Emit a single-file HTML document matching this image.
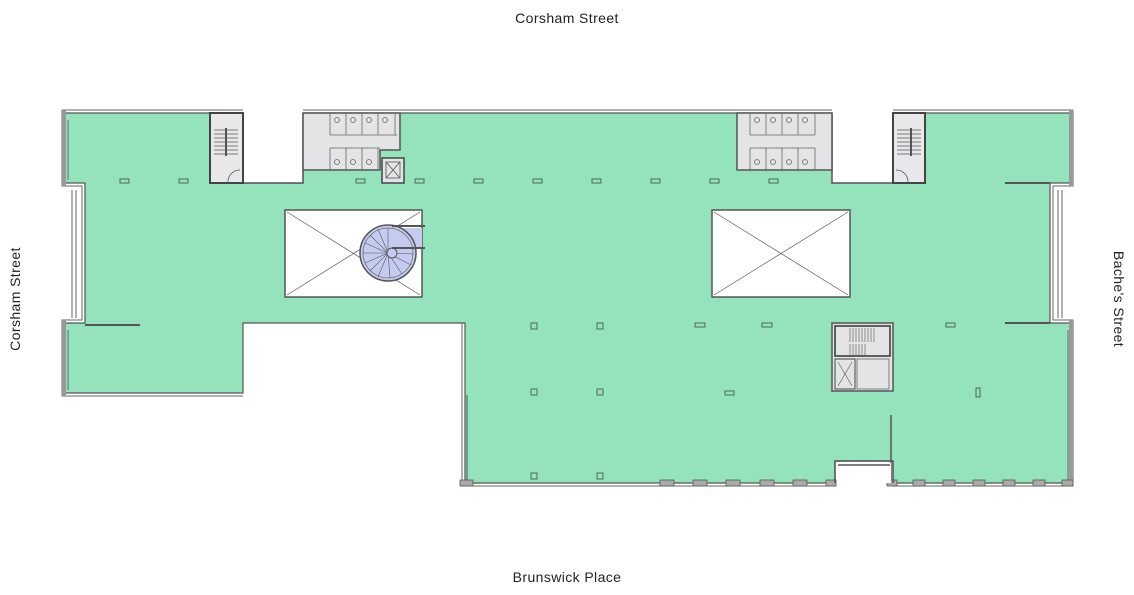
<!DOCTYPE html>
<html><head><meta charset="utf-8"><style>
html,body{margin:0;padding:0;background:#fff;}
svg{display:block;}
text{font-family:"Liberation Sans",sans-serif;font-size:14px;fill:#222;letter-spacing:0.4px;}
</style></head><body>
<svg width="1134" height="595" viewBox="0 0 1134 595" xmlns="http://www.w3.org/2000/svg">
<text x="567" y="23" text-anchor="middle">Corsham Street</text>
<text x="567" y="582" text-anchor="middle">Brunswick Place</text>
<text transform="translate(20,299) rotate(-90)" text-anchor="middle">Corsham Street</text>
<text transform="translate(1114,299) rotate(90)" text-anchor="middle">Bache's Street</text>

<!-- green floor -->
<path d="M65,113 H210 V183 H303 V113 H1070 V183 H1050 V323 H1070 V483 H893 V461 H835 V483 H465 V323 H243 V393 H65 V323 H85 V183 H65 Z" fill="#95e3bd" stroke="#555" stroke-width="1.2"/>
<!-- white notches at top -->
<rect x="243" y="110" width="60" height="73" fill="#fff"/>
<rect x="832" y="110" width="61" height="73" fill="#fff"/>
<path d="M243,113 V183 H303 V113 M832,113 V183 H893 V113" fill="none" stroke="#555" stroke-width="1.5"/>
<!-- outer wall double lines -->
<g fill="none" stroke="#666" stroke-width="1">
<path d="M62,110 H243 M303,110 H832 M893,110 H1073"/>
<path d="M62,110 V186 H82 V320 H62 V396 H243"/>
<path d="M1073,110 V186 H1053 V320 H1073 V486 H893 M835,486 H462 V323"/>
<path d="M72,190 V318 M76,190 V318"/>
<path d="M1058,190 V318 M1062,190 V318"/>
<path d="M1068,330 V480"/>
<path d="M68,120 V180 M68,330 V390"/>
</g>
<rect x="62" y="110" width="4" height="76" fill="#999"/>
<rect x="62" y="320" width="4" height="76" fill="#999"/>
<rect x="1069" y="110" width="4" height="76" fill="#999"/>
<rect x="1069" y="320" width="4" height="166" fill="#999"/>
<line x1="85" y1="325" x2="140" y2="325" stroke="#555" stroke-width="2"/>
<line x1="1005" y1="183" x2="1050" y2="183" stroke="#555" stroke-width="2"/>
<line x1="1005" y1="323" x2="1050" y2="323" stroke="#555" stroke-width="2"/>
<line x1="891" y1="415" x2="891" y2="483" stroke="#555" stroke-width="1.5"/>
<line x1="467" y1="395" x2="467" y2="480" stroke="#555" stroke-width="1"/>

<!-- stairs top -->
<g stroke="#444" fill="#e8e8ea">
<rect x="210" y="113" width="33" height="70" stroke-width="2"/>
<rect x="893" y="113" width="32" height="70" stroke-width="2"/>
</g>
<g stroke="#555" stroke-width="0.8">
<path d="M214,130 H238 M214,134 H238 M214,138 H238 M214,142 H238 M214,146 H238 M214,150 H238 M214,154 H238"/>
<path d="M897,130 H921 M897,134 H921 M897,138 H921 M897,142 H921 M897,146 H921 M897,150 H921 M897,154 H921"/>
<line x1="226" y1="128" x2="226" y2="156" stroke-width="2"/>
<line x1="911" y1="128" x2="911" y2="156" stroke-width="2"/>
<path d="M228,183 A12,12 0 0 1 240,170" fill="none"/>
<path d="M908,183 A12,12 0 0 0 896,170" fill="none"/>
</g>

<!-- toilets -->
<g stroke="#555" stroke-width="1" fill="#e4e4e6">
<path d="M303,113 H400 V150 H380 V170 H303 Z" stroke-width="1.5"/>
<path d="M737,113 H832 V170 H737 Z" stroke-width="1.5"/>
</g>
<g stroke="#666" stroke-width="0.8" fill="none">
<path d="M330,114 V135 M346,114 V135 M362,114 V135 M378,114 V135 M395,114 V135 M330,135 H397"/>
<path d="M330,148 V170 M346,148 V170 M362,148 V170 M378,148 V170 M330,148 H380"/>
<path d="M750,114 V135 M766,114 V135 M782,114 V135 M798,114 V135 M815,114 V135 M750,135 H815"/>
<path d="M750,148 V170 M766,148 V170 M782,148 V170 M798,148 V170 M815,148 V170 M750,148 H815"/>
<circle cx="337" cy="120" r="2.5"/><circle cx="353" cy="120" r="2.5"/><circle cx="369" cy="120" r="2.5"/><circle cx="385" cy="120" r="2.5"/>
<circle cx="337" cy="162" r="2.5"/><circle cx="353" cy="162" r="2.5"/><circle cx="369" cy="162" r="2.5"/>
<circle cx="757" cy="120" r="2.5"/><circle cx="773" cy="120" r="2.5"/><circle cx="789" cy="120" r="2.5"/><circle cx="805" cy="120" r="2.5"/>
<circle cx="757" cy="162" r="2.5"/><circle cx="773" cy="162" r="2.5"/><circle cx="789" cy="162" r="2.5"/><circle cx="805" cy="162" r="2.5"/>
</g>
<!-- lift top -->
<rect x="382" y="158" width="22" height="25" fill="#e4e4e6" stroke="#444" stroke-width="1.5"/>
<path d="M386,162 L400,178 M400,162 L386,178" stroke="#555" stroke-width="0.8"/>
<rect x="386" y="162" width="14" height="16" fill="none" stroke="#555" stroke-width="0.8"/>

<!-- atria -->
<g fill="#fff" stroke="#555" stroke-width="1.5">
<rect x="285" y="210" width="137" height="87"/>
<rect x="712" y="210" width="138" height="87"/>
</g>
<g stroke="#555" stroke-width="0.7">
<path d="M287,212 L420,295 M420,212 L287,295"/>
<path d="M714,212 L848,295 M848,212 L714,295"/>
</g>
<!-- spiral stair -->
<rect x="390" y="228" width="32" height="20" fill="#c5cbef"/>
<circle cx="388" cy="253" r="28" fill="#c5cbef" stroke="#555" stroke-width="1.5"/>
<circle cx="388" cy="253" r="25" fill="none" stroke="#666" stroke-width="0.7"/>
<g stroke="#556" stroke-width="0.6">
<path d="M388,253 L363,253 M388,253 L365,243 M388,253 L370,235 M388,253 L378,229 M388,253 L365,263 M388,253 L370,271 M388,253 L378,277 M388,253 L390,278 M388,253 L402,274 M388,253 L411,265 M388,253 L413,254 M388,253 L388,228"/>
</g>
<circle cx="392" cy="253" r="5" fill="#c5cbef" stroke="#555" stroke-width="1"/>
<path d="M392,226 H425 M392,248 H425" stroke="#555" stroke-width="2"/>

<!-- core -->
<rect x="832" y="323" width="61" height="68" fill="#e4e4e6" stroke="#555" stroke-width="1.5"/>
<rect x="835" y="326" width="55" height="30" fill="none" stroke="#333" stroke-width="1.5"/>
<g stroke="#555" stroke-width="0.6">
<path d="M850,328 V342 M853,328 V342 M856,328 V342 M859,328 V342 M862,328 V342 M865,328 V342 M868,328 V342 M871,328 V342 M874,328 V342"/>
<path d="M850,344 V356 M853,344 V356 M856,344 V356 M859,344 V356 M862,344 V356 M865,344 V356"/>
</g>
<rect x="835" y="359" width="20" height="30" fill="none" stroke="#444" stroke-width="1"/>
<path d="M838,362 L852,386 M852,362 L838,386" stroke="#555" stroke-width="0.6"/>
<rect x="857" y="359" width="32" height="30" fill="none" stroke="#666" stroke-width="0.8"/>

<!-- columns -->
<g fill="#95e3bd" stroke="#4a6a5a" stroke-width="1">
<rect x="120" y="179" width="9" height="4"/><rect x="179" y="179" width="9" height="4"/>
<rect x="356" y="179" width="9" height="4"/><rect x="415" y="179" width="9" height="4"/>
<rect x="474" y="179" width="9" height="4"/><rect x="533" y="179" width="9" height="4"/>
<rect x="592" y="179" width="9" height="4"/><rect x="651" y="179" width="9" height="4"/>
<rect x="710" y="179" width="9" height="4"/><rect x="769" y="179" width="9" height="4"/>
<rect x="531" y="323" width="6" height="6"/><rect x="597" y="323" width="6" height="6"/>
<rect x="695" y="323" width="10" height="4"/><rect x="762" y="323" width="10" height="4"/>
<rect x="946" y="323" width="9" height="4"/>
<rect x="531" y="389" width="6" height="6"/><rect x="597" y="389" width="6" height="6"/>
<rect x="725" y="391" width="9" height="4"/><rect x="976" y="388" width="4" height="9"/>
<rect x="531" y="473" width="6" height="6"/><rect x="597" y="473" width="6" height="6"/>
</g>
<!-- bottom mullions -->
<g fill="#aaa" stroke="#555" stroke-width="0.8">
<rect x="460" y="480" width="13" height="6"/>
<rect x="660" y="480" width="14" height="6"/><rect x="693" y="480" width="14" height="6"/>
<rect x="726" y="480" width="14" height="6"/><rect x="760" y="480" width="14" height="6"/>
<rect x="793" y="480" width="14" height="6"/><rect x="826" y="480" width="10" height="6"/>
<rect x="887" y="480" width="10" height="6"/><rect x="913" y="480" width="12" height="6"/>
<rect x="943" y="480" width="12" height="6"/><rect x="973" y="480" width="12" height="6"/>
<rect x="1003" y="480" width="12" height="6"/><rect x="1033" y="480" width="12" height="6"/>
<rect x="1062" y="480" width="11" height="6"/>
</g>
<path d="M835,483 V461 H893 V483" fill="none" stroke="#555" stroke-width="1.5"/>
<rect x="837" y="463" width="54" height="20" fill="#fff"/>
<line x1="838" y1="465" x2="890" y2="465" stroke="#555" stroke-width="1.5"/>
</svg>
</body></html>
